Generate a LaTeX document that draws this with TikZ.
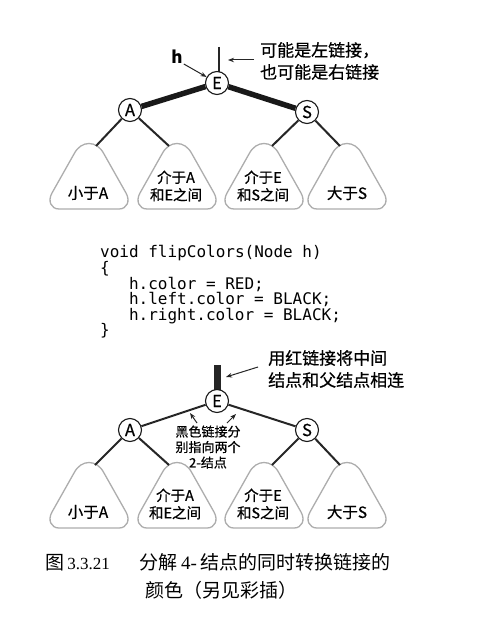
\documentclass[tikz,border=0pt]{standalone}
\usepackage{fontspec}
\setmainfont{Noto Sans CJK SC}
\newfontfamily\boldish[FakeBold=0.5]{Noto Sans CJK SC}
\newfontfamily\codefont{DejaVu Sans Mono}
\newfontfamily\capfont{Liberation Serif}
\usetikzlibrary{arrows.meta}
\begin{document}
\begin{tikzpicture}[x=1pt,y=-1pt,
  vert/.style={circle,draw=black!90,fill=white,line width=1.1pt,minimum size=23pt,inner sep=0pt,font=\boldish\fontsize{16.5}{16.5}\selectfont},
  redlink/.style={line width=5.5pt,draw=black!90},
  blacklink/.style={line width=2pt,draw=black!85},
  subtree/.style={draw=black!32,line width=1.3pt},
  stree/.pic={\draw[subtree] (15,11) -- (37,50) .. controls (41.5,58) and (38,66) .. (30,66)
      -- (-30,66) .. controls (-38,66) and (-41.5,58) .. (-37,50) -- (-15,11)
      .. controls (-8,-3) and (8,-3) .. cycle;},
  lab/.style={font=\boldish\fontsize{15.5}{15.5}\selectfont,inner sep=0pt},
  lab2/.style={font=\boldish\fontsize{14.5}{17.5}\selectfont,align=center,inner sep=0pt},
  note/.style={font=\boldish\fontsize{17}{22}\selectfont,align=left,anchor=west,inner sep=0pt},
  small/.style={font=\boldish\fontsize{13}{15.5}\selectfont,align=center,inner sep=0pt},
  codeline/.style={font=\codefont\fontsize{16}{16}\selectfont,anchor=base west,inner sep=0pt},
  pointer/.style={-{Stealth[length=6pt,width=4.5pt]},line width=1pt,draw=black!85},
]
\useasboundingbox (0,0) rectangle (477,618);
\fill[white] (0,0) rectangle (477,618);

% ---------- top tree ----------
\draw[line width=1.5pt,black!85] (219,47) coordinate (top) -- (219,72) coordinate (topE);
\foreach \c in {89,177,264,347}{ \pic at (\c,143) {stree}; }
\coordinate (t1) at (96,146);
\coordinate (t2) at (169,146);
\coordinate (t3) at (272,146);
\coordinate (t4) at (340,146);
\node[vert] (E) at (217,83) {E};
\node[vert] (A) at (130,110) {A};
\node[vert] (S) at (307,112) {S};
\draw[redlink] (E) -- (A);
\draw[redlink] (E) -- (S);
\draw[blacklink] (A) -- (t1);
\draw[blacklink] (A) -- (t2);
\draw[blacklink] (S) -- (t3);
\draw[blacklink] (S) -- (t4);
\node[lab] (l1) at (88,193) {小于A};
\node[lab2] (l2) at (176,186) {介于A\\和E之间};
\node[lab2] (l3) at (263,186) {介于E\\和S之间};
\node[lab] (l4) at (347,193) {大于S};
\node[font=\fontsize{17}{17}\selectfont\bfseries,inner sep=0pt] (h) at (177,57) {h};
\draw[pointer] (h.south east) ++(1,0) coordinate (hs) -- (E.150);
\node[note] (n1) at (260,61) {可能是左链接，\\也可能是右链接};
\coordinate (nl) at (228,60);
\draw[pointer] (n1.west |- nl) ++(-6,0) coordinate (n1s) -- (nl);

% ---------- code ----------
\node[codeline] (c1) at (100,257) {void flipColors(Node h)};
\node[codeline] (c2) at (100,273) {\{};
\node[codeline] (c3) at (128.8,289) {h.color = RED;};
\node[codeline] (c4) at (128.8,304) {h.left.color = BLACK;};
\node[codeline] (c5) at (128.8,320) {h.right.color = BLACK;};
\node[codeline] (c6) at (100,335) {\}};

% ---------- bottom tree ----------
\draw[line width=7pt,black!85] (217,365) coordinate (bar) -- (217,392) coordinate (barE);
\foreach \c in {89,177,264,347}{ \pic at (\c,462) {stree}; }
\coordinate (b1) at (95,465);
\coordinate (b2) at (169,465);
\coordinate (b3) at (272,465);
\coordinate (b4) at (340,465);
\node[vert] (E2) at (217,401) {E};
\node[vert] (A2) at (130,430) {A};
\node[vert] (S2) at (307,430) {S};
\draw[blacklink] (E2) -- (A2);
\draw[blacklink] (E2) -- (S2);
\draw[blacklink] (A2) -- (b1);
\draw[blacklink] (A2) -- (b2);
\draw[blacklink] (S2) -- (b3);
\draw[blacklink] (S2) -- (b4);
\node[lab] (m1) at (88,512) {小于A};
\node[lab2] (m2) at (175,504) {介于A\\和E之间};
\node[lab2] (m3) at (263,504) {介于E\\和S之间};
\node[lab] (m4) at (347,512) {大于S};
\node[note] (n2) at (268,369) {用红链接将中间\\结点和父结点相连};
\coordinate (bl) at (226,377);
\draw[pointer] (n2.west) ++(-10,-2) coordinate (n2s) -- (bl);
\node[small] (n3) at (208,447) {黑色链接分\\别指向两个\\2-结点};
\coordinate (p1) at (197,423);
\coordinate (p2) at (227,423);
\draw[pointer] (p1) -- (190,413) coordinate (p1e);
\draw[pointer] (p2) -- (236,414) coordinate (p2e);

% ---------- caption ----------
\node[font=\fontsize{19}{19}\selectfont,anchor=west,inner sep=0pt] (cap1) at (45,562)
  {图\,{\capfont\fontsize{17}{17}\selectfont 3.3.21}\hspace{30pt}分解\,{\capfont 4-}\,结点的同时转换链接的};
\node[font=\fontsize{19}{19}\selectfont,anchor=west,inner sep=0pt] (cap2) at (145,590)
  {颜色（另见彩插）};
\end{tikzpicture}
\end{document}
